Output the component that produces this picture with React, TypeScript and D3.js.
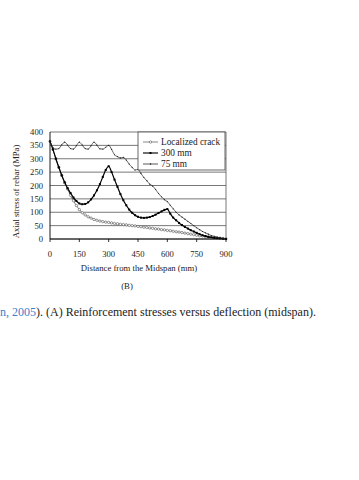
import React from "react";
import * as d3 from "d3";

// distance from midspan (mm)
const distances = [
  0, 15, 30, 45, 60, 75, 90, 105, 120, 135, 150, 165, 180, 195, 210, 225, 240, 255, 270, 285,
  300, 315, 330, 345, 360, 375, 390, 405, 420, 435, 450, 465, 480, 495, 510, 525, 540, 555, 570, 585,
  600, 615, 630, 645, 660, 675, 690, 705, 720, 735, 750, 765, 780, 795, 810, 825, 840, 855, 870, 885, 900,
];

const localized = [
  365, 335, 300, 268, 238, 210, 187, 163, 143, 125, 110, 98, 90, 83, 78, 73, 70, 67, 65, 63,
  62, 60, 58, 57, 55, 54, 53, 51, 50, 49, 47, 46, 44, 43, 41, 40, 38, 37, 35, 34,
  32, 31, 29, 27, 26, 24, 22, 20, 18, 16, 14, 12, 11, 9, 8, 6, 5, 4, 3, 2, 1,
];

const mm300 = [
  365, 335, 300, 268, 238, 212, 190, 172, 155, 142, 133, 130, 131, 137, 148, 163, 182, 205, 232, 258,
  272, 250, 222, 195, 168, 145, 126, 110, 98, 89, 83, 80, 79, 80, 82, 86, 91, 97, 103, 109,
  112, 95, 80, 70, 60, 52, 45, 39, 33, 28, 23, 18, 14, 11, 8, 6, 4, 3, 2, 1, 0,
];

const mm75 = [
  365, 342, 336, 338, 352, 362, 351, 338, 336, 349, 362, 351, 338, 336, 349, 362, 351, 337, 336, 343,
  350, 335, 315, 308, 303, 305, 295, 280, 268, 258, 260, 245, 230, 218, 205, 198, 185, 170, 158, 147,
  140, 126, 113, 100, 90, 82, 74, 66, 58, 50, 42, 35, 28, 23, 18, 13, 10, 7, 4, 2, 1,
];

const xTicks = [0, 150, 300, 450, 600, 750, 900];
const yTicks = [0, 50, 100, 150, 200, 250, 300, 350, 400];

const font = "'Liberation Serif', 'Times New Roman', serif";

export default function App() {
  const x = d3.scaleLinear().domain([0, 900]).range([50, 226]);
  const y = d3.scaleLinear().domain([0, 400]).range([239, 132]);

  const line = (vals: number[]) =>
    d3
      .line<number>()
      .x((_, i) => x(distances[i]))
      .y((v) => y(v))
      .curve(d3.curveMonotoneX)(vals) || "";

  return (
    <svg
      width={359}
      height={480}
      style={{ position: "absolute", left: 0, top: 0, background: "#fff" }}
      fontFamily={font}
    >
      {/* grid */}
      {yTicks.map((t) => (
        <line key={t} x1={x(0)} x2={x(900)} y1={y(t)} y2={y(t)} stroke="#555" strokeWidth={0.8} />
      ))}
      <line x1={x(900)} x2={x(900)} y1={y(400)} y2={y(0)} stroke="#555" strokeWidth={0.8} />
      <line x1={x(0)} x2={x(0)} y1={y(400)} y2={y(0)} stroke="#000" strokeWidth={0.9} />
      <line x1={x(0)} x2={x(900)} y1={y(0)} y2={y(0)} stroke="#000" strokeWidth={0.9} />
      {xTicks.map((t) => (
        <line key={t} x1={x(t)} x2={x(t)} y1={y(0)} y2={y(0) + 3} stroke="#000" strokeWidth={0.8} />
      ))}

      {/* tick labels */}
      {yTicks.map((t) => (
        <text key={t} x={43} y={y(t) + 3} fontSize={8.6} textAnchor="end" fill="#222">
          {t}
        </text>
      ))}
      {xTicks.map((t) => (
        <text key={t} x={x(t)} y={257} fontSize={8.6} textAnchor="middle" fill="#222">
          {t}
        </text>
      ))}
      <text
        transform={`translate(19,${y(200) + 6}) rotate(-90)`}
        fontSize={8.6}
        textAnchor="middle"
        fill="#222"
      >
        Axial stress of rebar (MPa)
      </text>
      <text x={139} y={271} fontSize={8.7} textAnchor="middle" fill="#222">
        Distance from the Midspan (mm)
      </text>
      <text x={127} y={289} fontSize={8.7} textAnchor="middle" fill="#222">
        (B)
      </text>

      {/* localized crack */}
      <path d={line(localized)} fill="none" stroke="#555" strokeWidth={0.8} />
      {localized.map((v, i) => (
        <circle key={i} cx={x(distances[i])} cy={y(v)} r={1.2} fill="#fff" stroke="#555" strokeWidth={0.6} />
      ))}

      {/* 300 mm */}
      <path d={line(mm300)} fill="none" stroke="#000" strokeWidth={1.2} />
      {mm300.map((v, i) => (
        <rect key={i} x={x(distances[i]) - 1} y={y(v) - 1} width={2} height={2} fill="#000" />
      ))}

      {/* 75 mm */}
      <path d={line(mm75)} fill="none" stroke="#222" strokeWidth={0.7} />
      {mm75.map((v, i) => (
        <circle key={i} cx={x(distances[i])} cy={y(v)} r={0.6} fill="#222" />
      ))}

      {/* legend */}
      <rect x={138} y={132} width={87} height={38} fill="#fff" stroke="#444" strokeWidth={0.8} />
      {[
        { label: "Localized crack", yy: 142 },
        { label: "300 mm", yy: 153 },
        { label: "75 mm", yy: 164 },
      ].map((d, i) => (
        <g key={d.label}>
          <line x1={143} x2={158} y1={d.yy} y2={d.yy} stroke={i === 0 ? "#555" : "#111"} strokeWidth={i === 1 ? 1.2 : 0.7} />
          {i === 0 && <circle cx={150.5} cy={d.yy} r={1.2} fill="#fff" stroke="#555" strokeWidth={0.6} />}
          {i === 1 && <rect x={149.5} y={d.yy - 1} width={2} height={2} fill="#000" />}
          {i === 2 && <circle cx={150.5} cy={d.yy} r={0.7} fill="#111" />}
          <text x={161} y={d.yy + 3} fontSize={9.3} fill="#222">
            {d.label}
          </text>
        </g>
      ))}

      {/* caption */}
      <text x={0} y={316} fontSize={12} fill="#222">
        <tspan fill="#3d7cc9">n, 2005</tspan>). (A) Reinforcement stresses versus deflection (midspan).
      </text>
    </svg>
  );
}
